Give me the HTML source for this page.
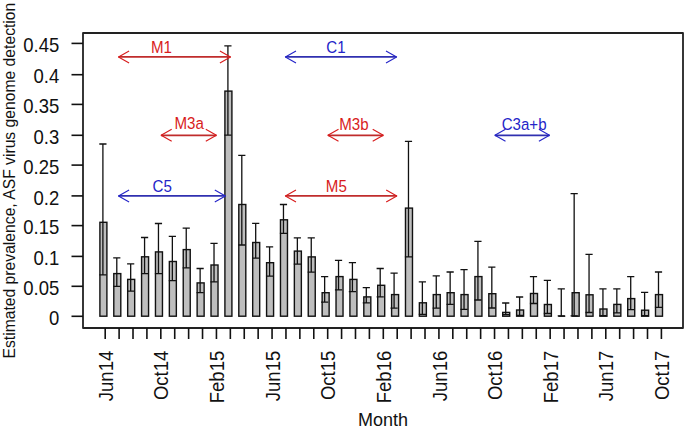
<!DOCTYPE html><html><head><meta charset="utf-8"><style>html,body{margin:0;padding:0;background:#fff;}svg{display:block;}text{font-family:"Liberation Sans",sans-serif;}</style></head><body>
<svg width="685" height="429" viewBox="0 0 685 429">
<rect width="685" height="429" fill="#fff"/>
<g fill="#bebebe" stroke="#111" stroke-width="1.4">
<rect x="99.90" y="222.30" width="7" height="93.90"/>
<rect x="113.79" y="273.60" width="7" height="42.60"/>
<rect x="127.68" y="279.40" width="7" height="36.80"/>
<rect x="141.57" y="256.80" width="7" height="59.40"/>
<rect x="155.46" y="251.90" width="7" height="64.30"/>
<rect x="169.35" y="261.50" width="7" height="54.70"/>
<rect x="183.24" y="249.60" width="7" height="66.60"/>
<rect x="197.13" y="282.90" width="7" height="33.30"/>
<rect x="211.02" y="265.00" width="7" height="51.20"/>
<rect x="224.91" y="91.10" width="7" height="225.10"/>
<rect x="238.80" y="204.50" width="7" height="111.70"/>
<rect x="252.69" y="242.50" width="7" height="73.70"/>
<rect x="266.58" y="262.70" width="7" height="53.50"/>
<rect x="280.47" y="219.80" width="7" height="96.40"/>
<rect x="294.36" y="251.10" width="7" height="65.10"/>
<rect x="308.25" y="256.90" width="7" height="59.30"/>
<rect x="322.14" y="292.70" width="7" height="23.50"/>
<rect x="336.03" y="276.60" width="7" height="39.60"/>
<rect x="349.92" y="279.40" width="7" height="36.80"/>
<rect x="363.81" y="296.90" width="7" height="19.30"/>
<rect x="377.70" y="285.30" width="7" height="30.90"/>
<rect x="391.59" y="294.60" width="7" height="21.60"/>
<rect x="405.48" y="208.10" width="7" height="108.10"/>
<rect x="419.37" y="302.80" width="7" height="13.40"/>
<rect x="433.26" y="294.60" width="7" height="21.60"/>
<rect x="447.15" y="292.70" width="7" height="23.50"/>
<rect x="461.04" y="294.60" width="7" height="21.60"/>
<rect x="474.93" y="276.60" width="7" height="39.60"/>
<rect x="488.82" y="293.70" width="7" height="22.50"/>
<rect x="502.71" y="312.40" width="7" height="3.80"/>
<rect x="516.60" y="310.00" width="7" height="6.20"/>
<rect x="530.49" y="293.50" width="7" height="22.70"/>
<rect x="544.38" y="304.50" width="7" height="11.70"/>
<line x1="558.27" y1="316.2" x2="565.27" y2="316.2"/>
<rect x="572.16" y="292.70" width="7" height="23.50"/>
<rect x="586.05" y="294.80" width="7" height="21.40"/>
<rect x="599.94" y="309.00" width="7" height="7.20"/>
<rect x="613.83" y="304.40" width="7" height="11.80"/>
<rect x="627.72" y="298.60" width="7" height="17.60"/>
<rect x="641.61" y="310.20" width="7" height="6.00"/>
<rect x="655.50" y="294.60" width="7" height="21.60"/>
</g>
<g stroke="#111" stroke-width="1.3" fill="none">
<path d="M102.90 274.80V144.00M99.30 144.00H106.50M99.30 274.80H106.50"/>
<path d="M116.79 286.40V257.80M113.19 257.80H120.39M113.19 286.40H120.39"/>
<path d="M130.68 291.10V263.80M127.08 263.80H134.28M127.08 291.10H134.28"/>
<path d="M144.57 273.60V237.50M140.97 237.50H148.17M140.97 273.60H148.17"/>
<path d="M158.46 273.60V223.50M154.86 223.50H162.06M154.86 273.60H162.06"/>
<path d="M172.35 280.60V236.30M168.75 236.30H175.95M168.75 280.60H175.95"/>
<path d="M186.24 267.80V228.20M182.64 228.20H189.84M182.64 267.80H189.84"/>
<path d="M200.13 292.70V268.50M196.53 268.50H203.73M196.53 292.70H203.73"/>
<path d="M214.02 281.80V243.30M210.42 243.30H217.62M210.42 281.80H217.62"/>
<path d="M227.91 135.20V45.90M224.31 45.90H231.51M224.31 135.20H231.51"/>
<path d="M241.80 245.00V155.40M238.20 155.40H245.40M238.20 245.00H245.40"/>
<path d="M255.69 258.20V223.40M252.09 223.40H259.29M252.09 258.20H259.29"/>
<path d="M269.58 276.10V246.80M265.98 246.80H273.18M265.98 276.10H273.18"/>
<path d="M283.47 233.30V204.50M279.87 204.50H287.07M279.87 233.30H287.07"/>
<path d="M297.36 264.10V237.80M293.76 237.80H300.96M293.76 264.10H300.96"/>
<path d="M311.25 272.10V237.80M307.65 237.80H314.85M307.65 272.10H314.85"/>
<path d="M324.64 302.10V276.60M321.04 276.60H328.24M321.04 302.10H328.24"/>
<path d="M338.53 289.90V260.30M334.93 260.30H342.13M334.93 289.90H342.13"/>
<path d="M352.42 291.60V262.70M348.82 262.70H356.02M348.82 291.60H356.02"/>
<path d="M366.31 302.80V287.60M362.71 287.60H369.91M362.71 302.80H369.91"/>
<path d="M380.20 296.90V268.50M376.60 268.50H383.80M376.60 296.90H383.80"/>
<path d="M394.09 308.10V273.10M390.49 273.10H397.69M390.49 308.10H397.69"/>
<path d="M408.48 256.80V141.40M404.88 141.40H412.08M404.88 256.80H412.08"/>
<path d="M422.37 314.40V281.80M418.77 281.80H425.97M418.77 314.40H425.97"/>
<path d="M436.26 308.10V275.90M432.66 275.90H439.86M432.66 308.10H439.86"/>
<path d="M450.15 304.40V272.00M446.55 272.00H453.75M446.55 304.40H453.75"/>
<path d="M464.04 309.30V269.70M460.44 269.70H467.64M460.44 309.30H467.64"/>
<path d="M477.93 300.00V241.40M474.33 241.40H481.53M474.33 300.00H481.53"/>
<path d="M491.82 308.00V267.10M488.22 267.10H495.42M488.22 308.00H495.42"/>
<path d="M505.71 314.60V303.00M502.11 303.00H509.31M502.11 314.60H509.31"/>
<path d="M519.60 315.30V297.00M516.00 297.00H523.20M516.00 315.30H523.20"/>
<path d="M533.49 303.50V276.70M529.89 276.70H537.09M529.89 303.50H537.09"/>
<path d="M547.38 313.50V280.40M543.78 280.40H550.98M543.78 313.50H550.98"/>
<path d="M561.27 315.90V288.90M557.67 288.90H564.87M557.67 315.90H564.87"/>
<path d="M574.16 315.90V193.70M570.56 193.70H577.76M570.56 315.90H577.76"/>
<path d="M589.05 312.50V254.40M585.45 254.40H592.65M585.45 312.50H592.65"/>
<path d="M602.94 315.60V288.80M599.34 288.80H606.54M599.34 315.60H606.54"/>
<path d="M616.83 312.80V288.80M613.23 288.80H620.43M613.23 312.80H620.43"/>
<path d="M630.72 309.70V276.60M627.12 276.60H634.32M627.12 309.70H634.32"/>
<path d="M644.61 315.60V292.30M641.01 292.30H648.21M641.01 315.60H648.21"/>
<path d="M658.50 307.40V272.00M654.90 272.00H662.10M654.90 307.40H662.10"/>
</g>
<rect x="83" y="33" width="600" height="295" fill="none" stroke="#222" stroke-width="1.8" stroke-linejoin="round"/>
<g stroke="#111" stroke-width="1.6">
<line x1="71.5" y1="316.30" x2="83" y2="316.30"/>
<line x1="71.5" y1="286.30" x2="83" y2="286.30"/>
<line x1="71.5" y1="256.40" x2="83" y2="256.40"/>
<line x1="71.5" y1="225.60" x2="83" y2="225.60"/>
<line x1="71.5" y1="195.90" x2="83" y2="195.90"/>
<line x1="71.5" y1="165.10" x2="83" y2="165.10"/>
<line x1="71.5" y1="135.30" x2="83" y2="135.30"/>
<line x1="71.5" y1="104.40" x2="83" y2="104.40"/>
<line x1="71.5" y1="74.70" x2="83" y2="74.70"/>
<line x1="71.5" y1="43.40" x2="83" y2="43.40"/>
</g>
<g font-size="18.5" fill="#111" text-anchor="end">
<text transform="translate(59.2,324.95) scale(1,1.07)">0</text>
<text transform="translate(59.2,294.95) scale(1,1.07)">0.05</text>
<text transform="translate(59.2,265.05) scale(1,1.07)">0.1</text>
<text transform="translate(59.2,234.25) scale(1,1.07)">0.15</text>
<text transform="translate(59.2,204.55) scale(1,1.07)">0.2</text>
<text transform="translate(59.2,173.75) scale(1,1.07)">0.25</text>
<text transform="translate(59.2,143.95) scale(1,1.07)">0.3</text>
<text transform="translate(59.2,113.05) scale(1,1.07)">0.35</text>
<text transform="translate(59.2,83.35) scale(1,1.07)">0.4</text>
<text transform="translate(59.2,52.05) scale(1,1.07)">0.45</text>
</g>
<g stroke="#111" stroke-width="1.6">
<line x1="105.20" y1="328" x2="105.20" y2="339"/>
<line x1="119.11" y1="328" x2="119.11" y2="339"/>
<line x1="133.01" y1="328" x2="133.01" y2="339"/>
<line x1="146.91" y1="328" x2="146.91" y2="339"/>
<line x1="160.82" y1="328" x2="160.82" y2="339"/>
<line x1="174.72" y1="328" x2="174.72" y2="339"/>
<line x1="188.63" y1="328" x2="188.63" y2="339"/>
<line x1="202.53" y1="328" x2="202.53" y2="339"/>
<line x1="216.44" y1="328" x2="216.44" y2="339"/>
<line x1="230.34" y1="328" x2="230.34" y2="339"/>
<line x1="244.25" y1="328" x2="244.25" y2="339"/>
<line x1="258.15" y1="328" x2="258.15" y2="339"/>
<line x1="272.06" y1="328" x2="272.06" y2="339"/>
<line x1="285.96" y1="328" x2="285.96" y2="339"/>
<line x1="299.87" y1="328" x2="299.87" y2="339"/>
<line x1="313.77" y1="328" x2="313.77" y2="339"/>
<line x1="327.68" y1="328" x2="327.68" y2="339"/>
<line x1="341.58" y1="328" x2="341.58" y2="339"/>
<line x1="355.49" y1="328" x2="355.49" y2="339"/>
<line x1="369.39" y1="328" x2="369.39" y2="339"/>
<line x1="383.30" y1="328" x2="383.30" y2="339"/>
<line x1="397.20" y1="328" x2="397.20" y2="339"/>
<line x1="411.11" y1="328" x2="411.11" y2="339"/>
<line x1="425.01" y1="328" x2="425.01" y2="339"/>
<line x1="438.92" y1="328" x2="438.92" y2="339"/>
<line x1="452.82" y1="328" x2="452.82" y2="339"/>
<line x1="466.73" y1="328" x2="466.73" y2="339"/>
<line x1="480.63" y1="328" x2="480.63" y2="339"/>
<line x1="494.54" y1="328" x2="494.54" y2="339"/>
<line x1="508.44" y1="328" x2="508.44" y2="339"/>
<line x1="522.35" y1="328" x2="522.35" y2="339"/>
<line x1="536.25" y1="328" x2="536.25" y2="339"/>
<line x1="550.16" y1="328" x2="550.16" y2="339"/>
<line x1="564.06" y1="328" x2="564.06" y2="339"/>
<line x1="577.97" y1="328" x2="577.97" y2="339"/>
<line x1="591.88" y1="328" x2="591.88" y2="339"/>
<line x1="605.78" y1="328" x2="605.78" y2="339"/>
<line x1="619.69" y1="328" x2="619.69" y2="339"/>
<line x1="633.59" y1="328" x2="633.59" y2="339"/>
<line x1="647.50" y1="328" x2="647.50" y2="339"/>
<line x1="661.40" y1="328" x2="661.40" y2="339"/>
</g>
<g font-size="18.5" fill="#111" text-anchor="end">
<text transform="translate(112.85,350.8) rotate(-90) scale(1,1.07)">Jun14</text>
<text transform="translate(168.47,350.8) rotate(-90) scale(1,1.07)">Oct14</text>
<text transform="translate(224.09,350.8) rotate(-90) scale(1,1.07)">Feb15</text>
<text transform="translate(279.71,350.8) rotate(-90) scale(1,1.07)">Jun15</text>
<text transform="translate(335.33,350.8) rotate(-90) scale(1,1.07)">Oct15</text>
<text transform="translate(390.95,350.8) rotate(-90) scale(1,1.07)">Feb16</text>
<text transform="translate(446.57,350.8) rotate(-90) scale(1,1.07)">Jun16</text>
<text transform="translate(502.19,350.8) rotate(-90) scale(1,1.07)">Oct16</text>
<text transform="translate(557.81,350.8) rotate(-90) scale(1,1.07)">Feb17</text>
<text transform="translate(613.43,350.8) rotate(-90) scale(1,1.07)">Jun17</text>
<text transform="translate(669.05,350.8) rotate(-90) scale(1,1.07)">Oct17</text>
</g>
<text transform="translate(383,426.2) scale(1,1.07)" font-size="18" fill="#111" text-anchor="middle">Month</text>
<text transform="translate(14.8,180.6) rotate(-90)" font-size="15.7" fill="#111" text-anchor="middle">Estimated prevalence, ASF virus genome detection</text>
<path d="M118.5 56.9H230.5" stroke="#c02c2c" stroke-width="1.8" fill="none"/><path d="M129.1 50.9L118.5 56.9L129.1 62.9M219.9 50.9L230.5 56.9L219.9 62.9" stroke="#d81c1c" stroke-width="1.1" fill="none" stroke-linejoin="round"/>
<path d="M285.4 56.9H396.6" stroke="#3030b0" stroke-width="1.8" fill="none"/><path d="M296.0 50.9L285.4 56.9L296.0 62.9M386.0 50.9L396.6 56.9L386.0 62.9" stroke="#2424c8" stroke-width="1.1" fill="none" stroke-linejoin="round"/>
<path d="M161.1 135.3H216.4" stroke="#c02c2c" stroke-width="1.8" fill="none"/><path d="M171.7 129.3L161.1 135.3L171.7 141.3M205.8 129.3L216.4 135.3L205.8 141.3" stroke="#d81c1c" stroke-width="1.1" fill="none" stroke-linejoin="round"/>
<path d="M327.9 135.3H383.3" stroke="#c02c2c" stroke-width="1.8" fill="none"/><path d="M338.5 129.3L327.9 135.3L338.5 141.3M372.7 129.3L383.3 135.3L372.7 141.3" stroke="#d81c1c" stroke-width="1.1" fill="none" stroke-linejoin="round"/>
<path d="M494.9 135.3H549.5" stroke="#3030b0" stroke-width="1.8" fill="none"/><path d="M505.5 129.3L494.9 135.3L505.5 141.3M538.9 129.3L549.5 135.3L538.9 141.3" stroke="#2424c8" stroke-width="1.1" fill="none" stroke-linejoin="round"/>
<path d="M118.5 195.9H225.4" stroke="#3030b0" stroke-width="1.8" fill="none"/><path d="M129.1 189.9L118.5 195.9L129.1 201.9M214.8 189.9L225.4 195.9L214.8 201.9" stroke="#2424c8" stroke-width="1.1" fill="none" stroke-linejoin="round"/>
<path d="M285.4 195.9H396.8" stroke="#c02c2c" stroke-width="1.8" fill="none"/><path d="M296.0 189.9L285.4 195.9L296.0 201.9M386.2 189.9L396.8 195.9L386.2 201.9" stroke="#d81c1c" stroke-width="1.1" fill="none" stroke-linejoin="round"/>
<text transform="translate(161.5,52.60) scale(1,1.07)" font-size="15.1" fill="#d81c1c" text-anchor="middle">M1</text>
<text transform="translate(336,52.80) scale(1,1.07)" font-size="15.1" fill="#2424c8" text-anchor="middle">C1</text>
<text transform="translate(189.2,129.30) scale(1,1.07)" font-size="15.1" fill="#d81c1c" text-anchor="middle">M3a</text>
<text transform="translate(353.9,129.60) scale(1,1.07)" font-size="15.1" fill="#d81c1c" text-anchor="middle">M3b</text>
<text transform="translate(524.1,129.60) scale(1,1.07)" font-size="15.1" fill="#2424c8" text-anchor="middle">C3a+b</text>
<text transform="translate(162.2,191.60) scale(1,1.07)" font-size="15.1" fill="#2424c8" text-anchor="middle">C5</text>
<text transform="translate(336.3,191.60) scale(1,1.07)" font-size="15.1" fill="#d81c1c" text-anchor="middle">M5</text>
</svg></body></html>
